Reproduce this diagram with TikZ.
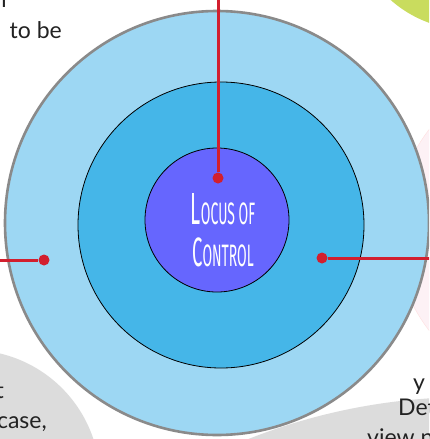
\documentclass[tikz,border=0pt]{standalone}
\usepackage{fontspec}
\setmainfont{Lato}
\newfontfamily\locfont[FakeStretch=0.45]{Fira Sans}
\definecolor{outerblue}{HTML}{9DD7F3}
\definecolor{midblue}{HTML}{45B6E8}
\definecolor{coreblue}{HTML}{6666FE}
\definecolor{ringgray}{HTML}{8A8A8A}
\definecolor{pinred}{HTML}{D21F2E}
\definecolor{blobgreen}{HTML}{C9DC5E}
\definecolor{blobgray}{HTML}{DCDCDC}
\definecolor{blobpink}{HTML}{FDF1F5}
\definecolor{inkgray}{HTML}{222222}
\begin{document}
\begin{tikzpicture}[x=1pt, y=-1pt,
                ring/.style = {circle, minimum size=#1, inner sep=0pt},
                pindot/.style = {circle, fill=pinred, minimum size=11pt, inner sep=0pt},
                pinline/.style = {draw=pinred, line width=3pt},
                side/.style = {text=inkgray, font=\fontsize{23}{26}\selectfont, inner sep=0pt}
            ]
            \useasboundingbox (0,0) rectangle (429,439);
            \clip (0,0) rectangle (429,439);
            \fill[white] (0,0) rectangle (429,439);
            \fill[blobgreen] (470,-90) circle (120pt);
            \filldraw[fill=blobpink, draw=pink!50] (560,230) circle (165pt);
            \fill[blobgray] (-30,480) circle (130pt);
            \fill[blobgray] (470,1000) circle (603pt);
            \node[ring=424pt, fill=outerblue, draw=ringgray, line width=2.6pt] (outer) at (217,223) {};
            \node[ring=286pt, fill=midblue, draw=black, line width=0.8pt] (middle) at (221,225) {};
            \node[ring=144pt, fill=coreblue, draw=black, line width=0.8pt] (core) at (217,220) {};
            \node[text=white, font=\locfont\fontsize{31}{42}\selectfont, align=center, inner sep=0pt] (title) at (223,230)
                {{\fontsize{45}{42}\selectfont L}OCUS OF\\
                 {\fontsize{41}{42}\selectfont C}ONTROL};
            \node[pindot] (topdot) at (218,178) {};
            \node[pindot] (leftdot) at (44,260) {};
            \node[pindot] (rightdot) at (322,258) {};
            \coordinate (topend) at (218,-5);
            \coordinate (leftend) at (-5,260);
            \coordinate (rightend) at (435,258);
            \draw[pinline] (topend) -- (topdot);
            \draw[pinline] (leftend) -- (leftdot);
            \draw[pinline] (rightend) -- (rightdot);
            \node[side, anchor=base east] (noteA) at (10,8) {r};
            \node[side, anchor=base east] (noteB) at (62,38) {to be};
            \node[side, anchor=base east] (noteC) at (4,398) {t};
            \node[side, anchor=base east] (noteD) at (47,428) {case,};
            \node[side, anchor=base west] (noteE) at (413,390) {y};
            \node[side, anchor=base west] (noteF) at (398,415) {Det};
            \node[side, anchor=base west] (noteG) at (367,445) {view n};
        \end{tikzpicture}
\end{document}
